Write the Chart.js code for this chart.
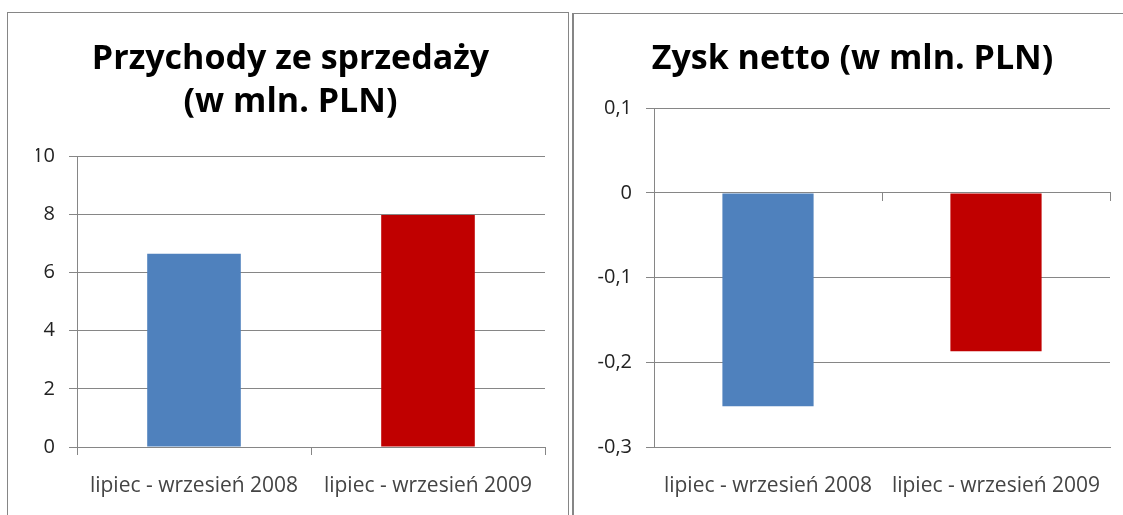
<!DOCTYPE html>
<html>
<head>
<meta charset="utf-8">
<script src="https://cdn.jsdelivr.net/npm/chart.js"></script>
<style>
  body { margin: 0; background: #fff; overflow: hidden; }
  .panel { position: absolute; box-sizing: border-box; border: 1px solid #868686; background: #fff; }
  #p1 { left: 7px; top: 12px; width: 562px; height: 600px; }
  #p2 { left: 572px; top: 13px; width: 600px; height: 600px; border-left: 2px solid #868686; }
  canvas { position: absolute; left: 0; top: 0; }
</style>
</head>
<body>
<div class="panel" id="p1"><canvas id="revenueChart" width="560" height="502"></canvas></div>
<div class="panel" id="p2"><canvas id="profitChart" width="549" height="501"></canvas></div>
<script>
const categories = ['lipiec - wrzesień 2008', 'lipiec - wrzesień 2009'];
const revenue = [6.65, 7.98];
const netProfit = [-0.252, -0.187];
const barColors = ['#4F81BD', '#C00000'];
const revenueTitle = ['Przychody ze sprzedaży', '(w mln. PLN)'];
const profitTitle = 'Zysk netto (w mln. PLN)';

const gridColor = '#868686';
const fontFamily = '"Open Sans", Lato, sans-serif';
const titleFont = { family: fontFamily, size: 34, weight: 'bold', lineHeight: 1.27 };
const xTickFont = { family: fontFamily, size: 21 };
const yTickFont = { family: fontFamily, size: 20 };

function plFormat(v) {
    const r = Math.round(v * 10) / 10;
    if (r === 0) return '0';
    return r.toString().replace('.', ',');
}

const ctx1 = document.getElementById('revenueChart').getContext('2d');
new Chart(ctx1, {
    type: 'bar',
    data: {
        labels: categories,
        datasets: [{
            data: revenue,
            backgroundColor: barColors,
            barPercentage: 0.4,
            categoryPercentage: 1
        }]
    },
    options: {
        responsive: false,
        animation: false,
        // extra left padding keeps the title centred like the original
        layout: { padding: { left: 28, right: 23, top: 0, bottom: 0 } },
        plugins: {
            legend: { display: false },
            tooltip: { enabled: false },
            title: {
                display: true,
                text: revenueTitle,
                color: '#000',
                font: titleFont,
                padding: { top: 25, bottom: 32 }
            }
        },
        scales: {
            x: {
                grid: { display: true, drawOnChartArea: false, offset: true, color: gridColor, tickLength: 8 },
                border: { color: gridColor },
                ticks: { color: '#444', font: xTickFont, padding: 18 },
                afterFit: (s) => { s.height = 68; }
            },
            y: {
                min: 0,
                max: 10,
                ticks: { stepSize: 2, color: '#222', font: yTickFont, padding: 14 },
                grid: { color: gridColor, tickLength: 8 },
                border: { color: gridColor },
                afterFit: (s) => { s.width = 41; }
            }
        }
    }
});

const ctx2 = document.getElementById('profitChart').getContext('2d');
new Chart(ctx2, {
    type: 'bar',
    data: {
        labels: categories,
        datasets: [{
            data: netProfit,
            backgroundColor: barColors,
            barPercentage: 0.4,
            categoryPercentage: 1
        }]
    },
    options: {
        responsive: false,
        animation: false,
        layout: { padding: { left: 21, right: 13, top: 0, bottom: 0 } },
        plugins: {
            legend: { display: false },
            tooltip: { enabled: false },
            title: {
                display: true,
                text: profitTitle,
                color: '#000',
                font: titleFont,
                padding: { top: 24, bottom: 27 }
            }
        },
        scales: {
            x: {
                // labels sit at the bottom, tick marks are on the zero line (x2)
                grid: { display: true, drawOnChartArea: false, offset: true, tickColor: 'transparent', tickLength: 20 },
                border: { color: gridColor },
                ticks: { color: '#444', font: xTickFont, padding: 6 },
                afterFit: (s) => { s.height = 68; }
            },
            x2: {
                type: 'category',
                labels: categories,
                position: { y: 0 },
                grid: { display: true, drawOnChartArea: false, offset: true, color: gridColor, tickLength: 8 },
                border: { color: gridColor },
                ticks: { display: false }
            },
            y: {
                min: -0.3,
                max: 0.1,
                ticks: { stepSize: 0.1, color: '#222', font: yTickFont, padding: 14, callback: (v) => plFormat(v) },
                grid: { color: gridColor, tickLength: 8 },
                border: { color: gridColor },
                afterFit: (s) => { s.width = 59; }
            }
        }
    }
});
</script>
</body>
</html>
